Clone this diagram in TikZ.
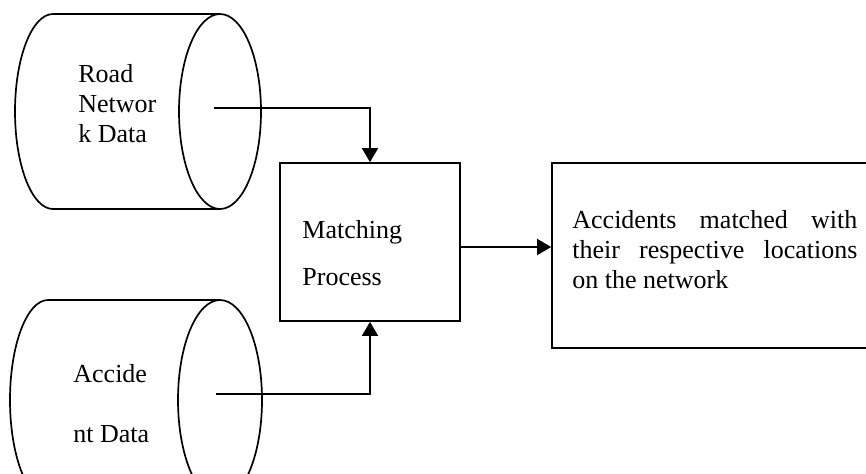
\documentclass[tikz,border=0pt]{standalone}
\usepackage{fontspec}
\setmainfont{Liberation Serif}
\usetikzlibrary{arrows.meta}
\begin{document}
\begin{tikzpicture}[x=0.5pt,y=-0.5pt]
		\tikzset{store/.style = {line width=0.85pt}}
		\tikzset{procbox/.style = {draw,line width=0.85pt,inner sep=0pt}}
		\tikzset{label/.style = {anchor=base west,inner sep=0pt,align=left,font=\fontsize{13pt}{15pt}\selectfont}}
		\tikzset{edge/.style = {line width=0.85pt,-{Triangle[length=7pt,width=8pt]}}}
		\useasboundingbox (0,0) rectangle (866,473);
		\clip (0,0) rectangle (866,473);
		% data stores
		\draw[store] (220,14) -- (53,14) arc[start angle=90,end angle=270,x radius=19pt,y radius=48.75pt] -- (220,209);
		\draw[store] (220,111.5) ellipse[x radius=20.5pt,y radius=48.75pt];
		\draw[store] (220,300) -- (48,300) arc[start angle=90,end angle=270,x radius=19pt,y radius=50pt] -- (220,500);
		\draw[store] (220,400) ellipse[x radius=21pt,y radius=50pt];
		\node[label] (road) at (78,142) {Road\\Networ\\k Data};
		\node[label] (acc) at (73,442) {Accide\\[15pt]nt Data};
		\coordinate (roadout) at (214,108);
		\coordinate (accout) at (216,394);
		% process and result
		\node[procbox,minimum width=90pt,minimum height=79pt] (match) at (370,242) {};
		\node[label] (matchtxt) at (302,285) {Matching\\[8.5pt]Process};
		\node[procbox,minimum width=164pt,minimum height=92.5pt] (result) at (716,255.5) {};
		\node[label] (restxt) at (572,288) {\makebox[142.5pt][s]{Accidents matched with}\\\makebox[142.5pt][s]{their respective locations}\\on the network};
		% connectors
		\draw[edge] (roadout) -| (match.north);
		\draw[edge] (accout) -| (match.south);
		\draw[edge] ([yshift=-2.5pt]match.east) -- ([yshift=-2.5pt]match.east -| result.west);
	\end{tikzpicture}
\end{document}
